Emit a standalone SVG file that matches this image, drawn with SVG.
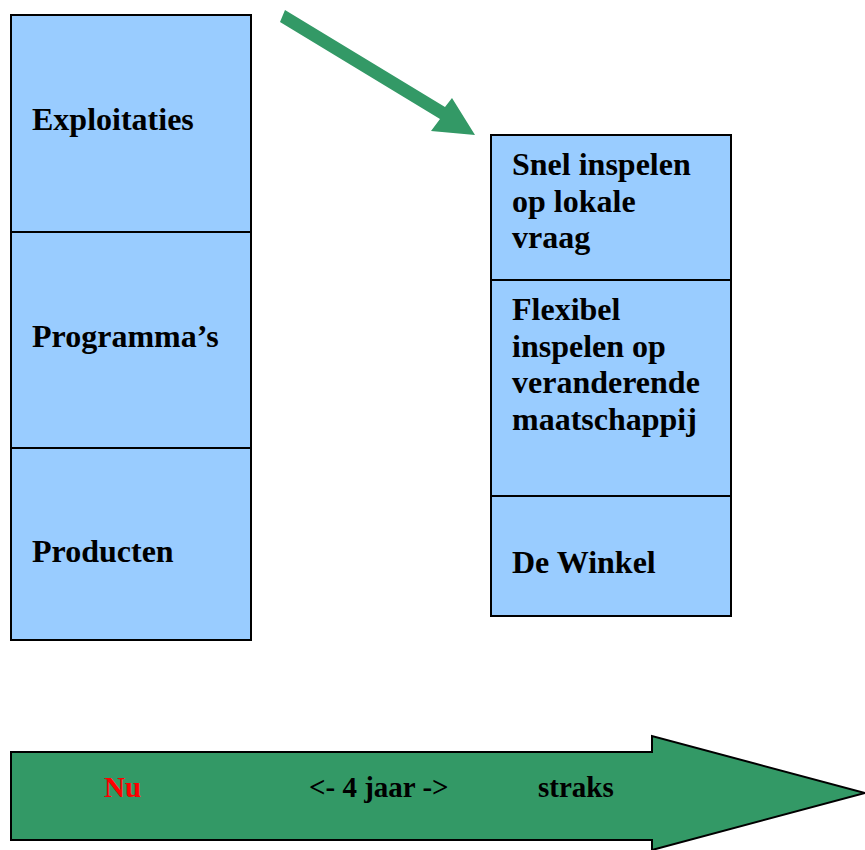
<svg xmlns="http://www.w3.org/2000/svg" width="865" height="850" viewBox="0 0 865 850">
<style>
.box{fill:#99CCFF;stroke:#000;stroke-width:2}
.t{font-family:"Liberation Serif","Times New Roman",serif;font-weight:bold;font-size:32px;fill:#000}
.b{font-family:"Liberation Serif","Times New Roman",serif;font-weight:bold;font-size:29px;fill:#000}
.green{fill:#339966}
</style>
<rect width="865" height="850" fill="#fff"/>
<g id="connectors">
<polygon class="green" points="285,10 280,22 440,119 431,131 475,135 452,98 445,107"/>
</g>
<g id="exploitaties">
<rect class="box" x="11" y="15" width="240" height="217"/>
<text class="t" x="32" y="130">Exploitaties</text>
</g>
<g id="programmas">
<rect class="box" x="11" y="232" width="240" height="216"/>
<text class="t" x="32" y="347">Programma’s</text>
</g>
<g id="producten">
<rect class="box" x="11" y="448" width="240" height="192"/>
<text class="t" x="32" y="562">Producten</text>
</g>
<g id="snel">
<rect class="box" x="491" y="135" width="240" height="145"/>
<text class="t" x="512" y="175">Snel inspelen</text>
<text class="t" x="512" y="212">op lokale</text>
<text class="t" x="512" y="248">vraag</text>
</g>
<g id="flexibel">
<rect class="box" x="491" y="280" width="240" height="216"/>
<text class="t" x="512" y="320">Flexibel</text>
<text class="t" x="512" y="357">inspelen op</text>
<text class="t" x="512" y="393">veranderende</text>
<text class="t" x="512" y="430">maatschappij</text>
</g>
<g id="winkel">
<rect class="box" x="491" y="496" width="240" height="120"/>
<text class="t" x="512" y="573">De Winkel</text>
</g>
<g id="timeline">
<polygon class="green" stroke="#000" stroke-width="2" points="11,752 652,752 652,736 865,793 652,850 652,840 11,840"/>
<text class="b" x="104" y="797" fill="#FF0000" style="fill:#FF0000">Nu</text>
<text class="b" x="309" y="797">&lt;- 4 jaar -&gt;</text>
<text class="b" x="538" y="797">straks</text>
</g>
</svg>
